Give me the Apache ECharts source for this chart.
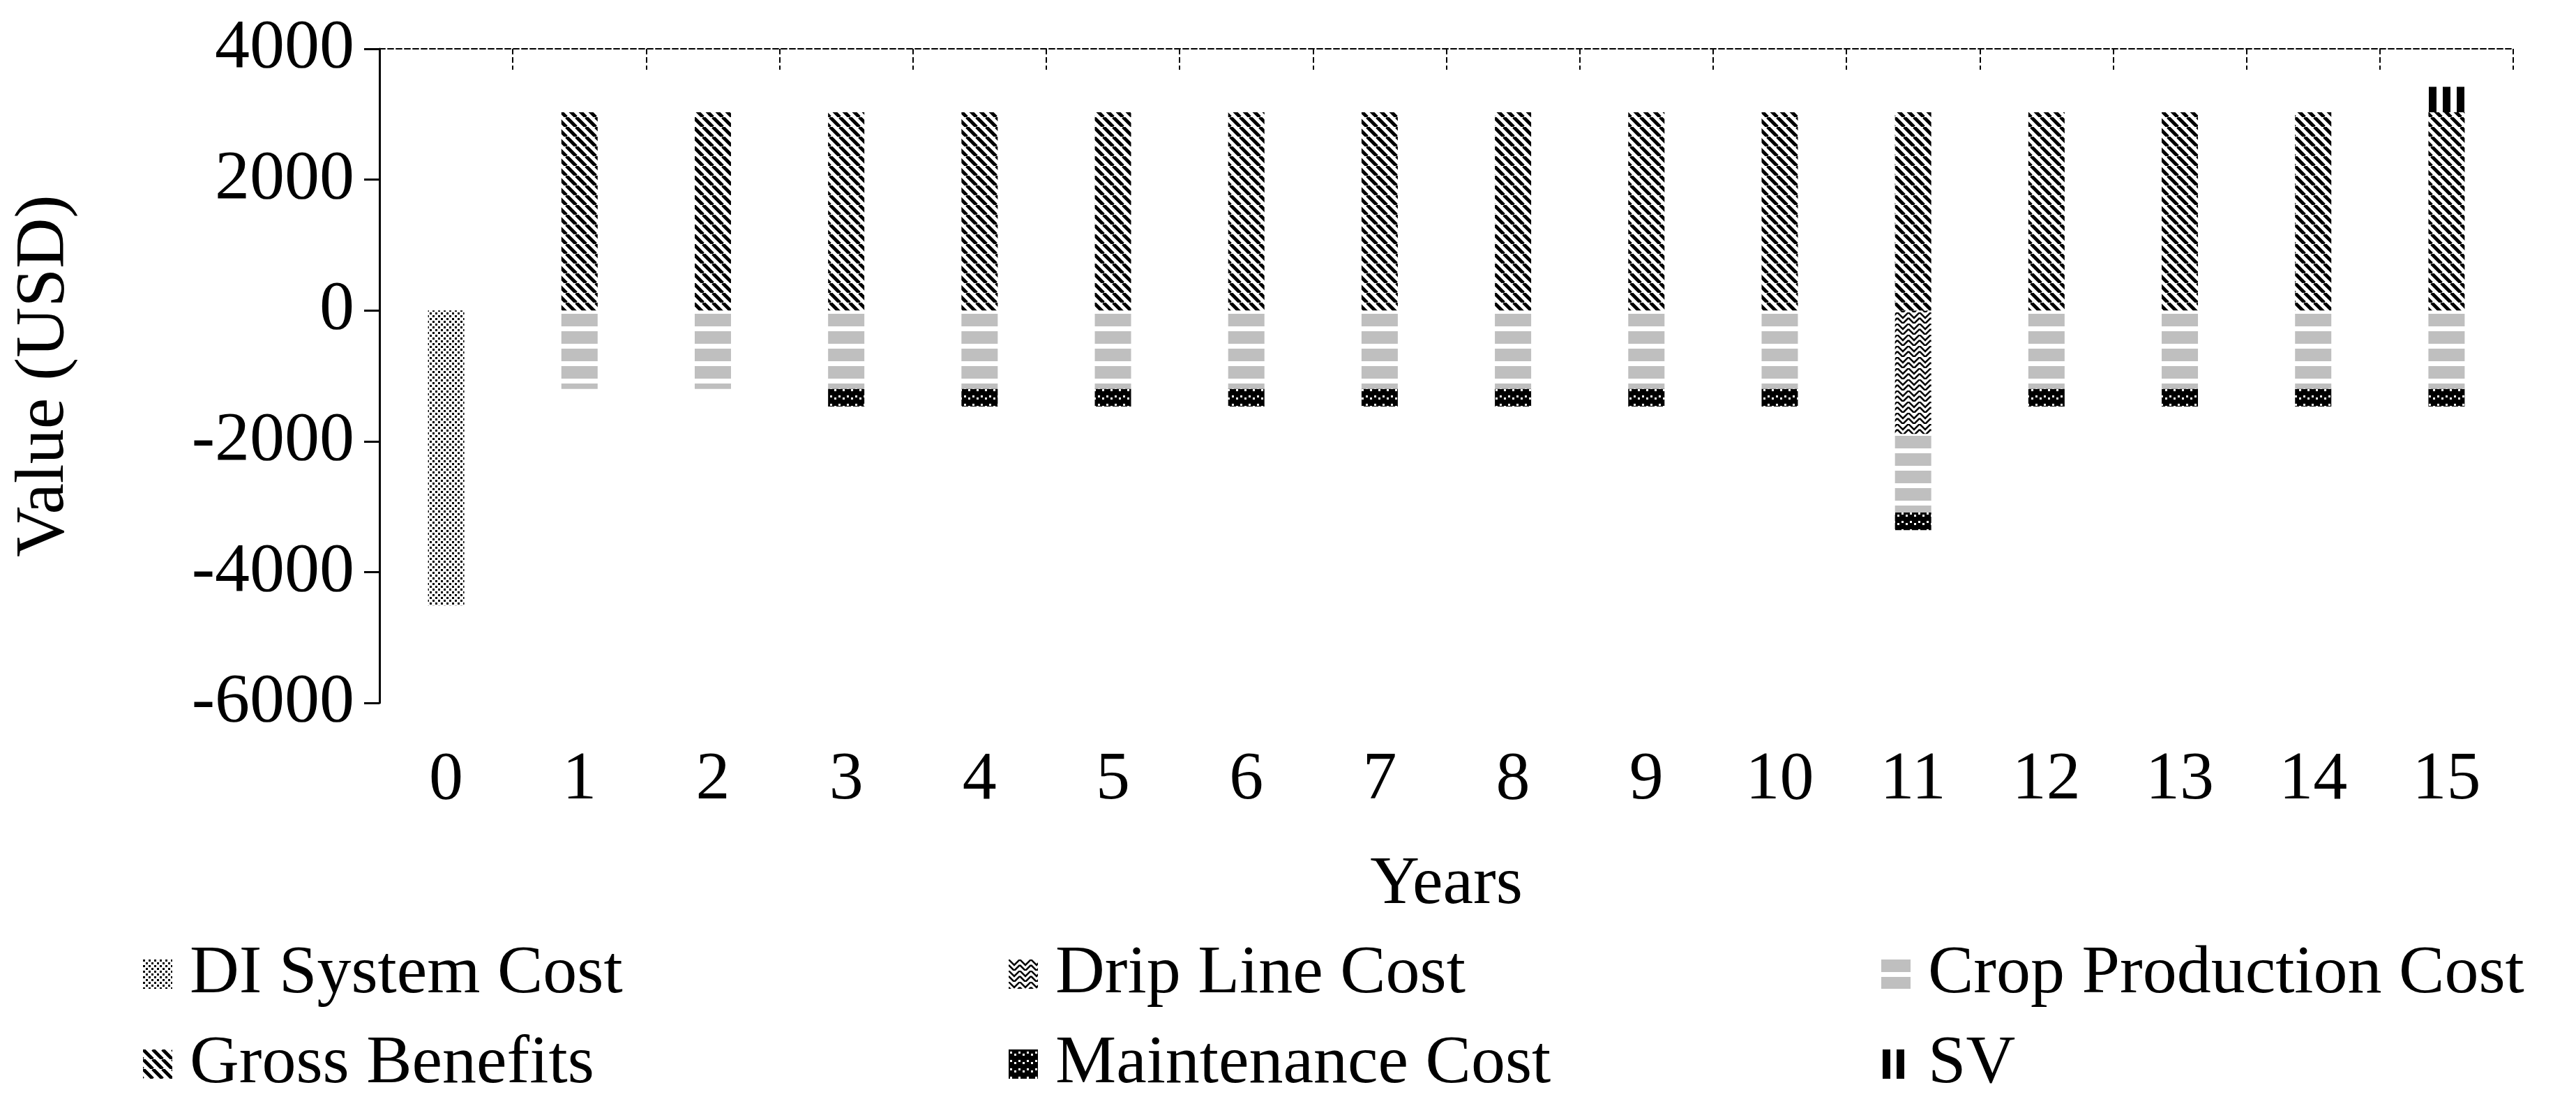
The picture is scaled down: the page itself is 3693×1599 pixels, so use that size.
<!DOCTYPE html>
<html><head><meta charset="utf-8">
<script src="https://cdn.jsdelivr.net/npm/echarts@6/dist/echarts.min.js"></script>
<style>html,body{margin:0;background:#fff}#c{width:3693px;height:1599px}</style>
</head><body><div id="c"></div>
<script>
const years = ['0','1','2','3','4','5','6','7','8','9','10','11','12','13','14','15'];
const diSystemCost   = [-4510,0,0,0,0,0,0,0,0,0,0,0,0,0,0,0];
const dripLineCost   = [0,0,0,0,0,0,0,0,0,0,0,-1890,0,0,0,0];
const cropProdCost   = [0,-1200,-1200,-1200,-1200,-1200,-1200,-1200,-1200,-1200,-1200,-1200,-1200,-1200,-1200,-1200];
const grossBenefits  = [0,3030,3030,3030,3030,3030,3030,3030,3030,3030,3030,3030,3030,3030,3030,3030];
const maintCost      = [0,0,0,-270,-270,-270,-270,-270,-270,-270,-270,-270,-270,-270,-270,-270];
const sv             = [0,0,0,0,0,0,0,0,0,0,0,0,0,0,0,390];
const seriesNames = ['DI System Cost','Drip Line Cost','Crop Production Cost','Gross Benefits','Maintenance Cost','SV'];

function pat(w,h,draw){const c=document.createElement('canvas');c.width=w;c.height=h;const g=c.getContext('2d');g.fillStyle='#fff';g.fillRect(0,0,w,h);g.fillStyle='#000';draw(g);return {image:c,repeat:'repeat'};}
const pDI = pat(8,8,g=>{g.fillRect(0,0,3,3);g.fillRect(4,4,3,3);});
const pDrip = pat(16,16,g=>{g.strokeStyle='#000';g.lineWidth=2.5;g.beginPath();g.moveTo(0,0);g.lineTo(8,8);g.lineTo(16,0);g.moveTo(0,8);g.lineTo(8,16);g.lineTo(16,8);g.stroke();});
const pCrop = pat(8,25,g=>{g.fillStyle='#bfbfbf';g.fillRect(0,0,8,18);});
const pGross = pat(14,14,g=>{g.strokeStyle='#000';g.lineWidth=5;g.beginPath();for(let k=-14;k<=28;k+=14){g.moveTo(k,0);g.lineTo(k+14,14);}g.stroke();});
const pMaint = pat(12,12,g=>{g.fillRect(0,0,12,12);g.fillStyle='#fff';g.fillRect(2,3,3,3);g.fillRect(8,6,3,3);});
const pSV = pat(20,8,g=>{g.fillRect(2,0,11,8);});
const pats=[pDI,pDrip,pCrop,pGross,pMaint,pSV];
const datas=[diSystemCost,dripLineCost,cropProdCost,grossBenefits,maintCost,sv];

const font='"Liberation Serif","Times New Roman",serif';
const legendPos=[[200,1343],[1441,1343],[2692,1343],[200,1472],[1441,1472],[2692,1472]];
const chart=echarts.init(document.getElementById('c'));
chart.setOption({
  animation:false,
  grid:{left:544,right:90,top:70,bottom:591},
  legend: seriesNames.map((n,i)=>({data:[n],left:legendPos[i][0],top:legendPos[i][1],itemWidth:42,itemHeight:42,icon:'rect',
    textStyle:{fontFamily:font,fontSize:98,color:'#000',padding:[0,0,0,20]}})),
  xAxis:[
    {type:'category',data:years,position:'bottom',axisLine:{show:false},axisTick:{show:false},
     axisLabel:{fontFamily:font,fontSize:98,color:'#000',margin:62},
     name:'Years',nameLocation:'middle',nameGap:212,nameTextStyle:{fontFamily:font,fontSize:98,color:'#000'}},
    {type:'category',data:years,position:'top',axisLine:{onZero:true,lineStyle:{color:'#000',type:'dashed',width:2}},
     axisTick:{show:true,length:30,inside:true,lineStyle:{color:'#000',type:'dashed',width:2}},axisLabel:{show:false}}
  ],
  yAxis:{type:'value',min:-6000,max:4000,interval:2000,splitLine:{show:false},
    axisLine:{show:true,lineStyle:{color:'#000',width:3}},axisTick:{show:true,length:22,lineStyle:{color:'#000',width:3}},
    axisLabel:{fontFamily:font,fontSize:100,color:'#000',margin:36,formatter:v=>String(v)},
    name:'Value (USD)',nameLocation:'middle',nameGap:430,nameTextStyle:{fontFamily:font,fontSize:100,color:'#000'}},
  series: seriesNames.map((n,i)=>({name:n,type:'bar',stack:'t',xAxisIndex:0,barWidth:52,data:datas[i],itemStyle:{color:pats[i]}}))
});
</script></body></html>
